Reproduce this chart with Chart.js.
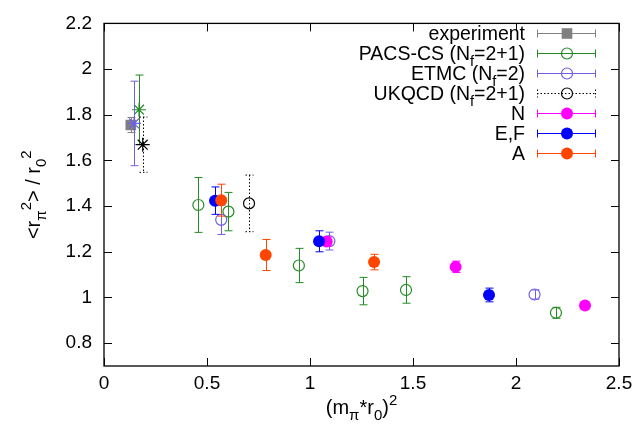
<!DOCTYPE html>
<html>
<head>
<meta charset="utf-8">
<script src="https://cdn.jsdelivr.net/npm/chart.js@4"></script>
<style>
  body { margin: 0; background: #fff; }
  canvas { display: block; }
</style>
</head>
<body>
<canvas id="g_radius" width="639" height="431"></canvas>
<script>
// values: x = (m_pi*r0)^2, y = <r^2>/r0^2, err = half length of the error bar
const exp_x = [0.13]
const exp_y = [1.755]
const exp_err = [0.033]

const pacs_x = [0.17, 0.458, 0.604, 0.946, 1.255, 1.466, 2.194]
const pacs_y = [1.822, 1.405, 1.376, 1.14, 1.028, 1.033, 0.933]
const pacs_err = [0.152, 0.12, 0.084, 0.075, 0.06, 0.058, 0.024]

const etmc_x = [0.146, 0.569, 1.094, 2.09]
const etmc_y = [1.762, 1.34, 1.247, 1.013]
const etmc_err = [0.185, 0.064, 0.039, 0.02]

const ukqcd_x = [0.188, 0.704]
const ukqcd_y = [1.669, 1.412]
const ukqcd_err = [0.121, 0.124]

const n_x = [1.081, 1.707, 2.335]
const n_y = [1.245, 1.134, 0.965]
const n_err = [0.02, 0.025, 0.01]

const ef_x = [0.539, 1.044, 1.869]
const ef_y = [1.424, 1.246, 1.011]
const ef_err = [0.06, 0.046, 0.03]

const a_x = [0.569, 0.785, 1.311]
const a_y = [1.426, 1.186, 1.155]
const a_err = [0.07, 0.068, 0.034]

const x_ticks = [0, 0.5, 1, 1.5, 2, 2.5]
const y_ticks = [0.8, 1, 1.2, 1.4, 1.6, 1.8, 2, 2.2]

const FONT = "'Liberation Sans', Arial, sans-serif"

// legend texts, pieces are [text, 'sub' | 'sup' | undefined]
const legend_items = [
    { text: [["experiment"]], color: "#808080", style: "rect", radius: 7.5, fill: true },
    { text: [["PACS-CS (N"], ["f", "sub"], ["=2+1)"]], color: "#228b22", style: "circle", radius: 5.5, fill: false },
    { text: [["ETMC (N"], ["f", "sub"], ["=2)"]], color: "#7060e0", style: "circle", radius: 5.5, fill: false },
    { text: [["UKQCD (N"], ["f", "sub"], ["=2+1)"]], color: "#000000", style: "circle", radius: 5.5, fill: false, dash: [1.5, 2] },
    { text: [["N"]], color: "#ff00ff", style: "circle", radius: 6, fill: true },
    { text: [["E,F"]], color: "#0000ff", style: "circle", radius: 6, fill: true },
    { text: [["A"]], color: "#ff4500", style: "circle", radius: 6, fill: true }
]

function pts(xs, ys) {
    return xs.map((v, i) => ({ x: v, y: ys[i] }))
}

// first point of some series is the physical point, drawn as a star
function series(xs, ys, err, item, star) {
    return {
        label: item.text.map(p => p[0]).join(""),
        data: pts(xs, ys),
        err: err,
        dash: item.dash,
        borderColor: item.color,
        backgroundColor: item.fill ? item.color : "rgba(0,0,0,0)",
        pointStyle: star ? xs.map((v, i) => i == 0 ? "star" : item.style) : item.style,
        pointRadius: star ? xs.map((v, i) => i == 0 ? 7 : item.radius) : item.radius,
        pointBorderWidth: item.fill ? 0 : 1.2,
        showLine: false
    }
}

// rich text with sub/superscripts
function richWidth(c, segs, size) {
    let w = 0
    segs.forEach(s => {
        c.font = (s[1] ? size * 0.75 : size) + "px " + FONT
        w += c.measureText(s[0]).width
    })
    return w
}
function drawRich(c, segs, x, y, size, align) {
    const w = richWidth(c, segs, size)
    let cx = align == "right" ? x - w : align == "center" ? x - w / 2 : x
    c.textAlign = "left"
    c.textBaseline = "alphabetic"
    segs.forEach(s => {
        let dy = 0
        if (s[1] == "sub") dy = size * 0.3
        if (s[1] == "sup") dy = -size * 0.45
        c.font = (s[1] ? size * 0.75 : size) + "px " + FONT
        c.fillText(s[0], cx, y + dy)
        cx += c.measureText(s[0]).width
    })
}

const errorBars = {
    id: "errorBars",
    beforeDatasetDraw(chart, args) {
        const ds = chart.data.datasets[args.index]
        const xs = chart.scales.x, ys = chart.scales.y
        const c = chart.ctx
        c.save()
        c.strokeStyle = ds.borderColor
        c.lineWidth = 1
        c.setLineDash(ds.dash || [])
        ds.data.forEach((p, i) => {
            const px = Math.round(xs.getPixelForValue(p.x)) + 0.5
            const top = ys.getPixelForValue(p.y + ds.err[i])
            const bot = ys.getPixelForValue(p.y - ds.err[i])
            c.beginPath()
            c.moveTo(px, top); c.lineTo(px, bot)
            c.moveTo(px - 4, top); c.lineTo(px + 4, top)
            c.moveTo(px - 4, bot); c.lineTo(px + 4, bot)
            c.stroke()
        })
        c.restore()
    }
}

const frame = {
    id: "frame",
    beforeDatasetsDraw(chart) {
        const c = chart.ctx
        const a = chart.chartArea
        const xs = chart.scales.x, ys = chart.scales.y
        c.save()
        c.strokeStyle = "#000"
        c.lineWidth = 1.3
        c.strokeRect(a.left, a.top, a.right - a.left, a.bottom - a.top)
        c.lineWidth = 1
        c.beginPath()
        x_ticks.forEach(v => {
            const px = Math.round(xs.getPixelForValue(v)) + 0.5
            c.moveTo(px, a.bottom); c.lineTo(px, a.bottom - 8)
            c.moveTo(px, a.top); c.lineTo(px, a.top + 8)
        })
        y_ticks.forEach(v => {
            const py = Math.round(ys.getPixelForValue(v)) + 0.5
            c.moveTo(a.left, py); c.lineTo(a.left + 8, py)
            c.moveTo(a.right, py); c.lineTo(a.right - 8, py)
        })
        c.stroke()
        c.restore()
    }
}

const keyBox = {
    id: "keyBox",
    afterDraw(chart) {
        const c = chart.ctx
        c.save()
        legend_items.forEach((item, i) => {
            const y = 33 + i * 20
            c.fillStyle = "#000"
            drawRich(c, item.text, 525, y + 7, 19.5, "right")
            c.strokeStyle = item.color
            c.lineWidth = 1
            c.setLineDash(item.dash || [])
            c.beginPath()
            c.moveTo(537, y + 0.5); c.lineTo(596, y + 0.5)
            c.moveTo(537.5, y - 3.5); c.lineTo(537.5, y + 4.5)
            c.moveTo(595.5, y - 3.5); c.lineTo(595.5, y + 4.5)
            c.stroke()
            c.setLineDash([])
            c.fillStyle = item.fill ? item.color : "rgba(0,0,0,0)"
            c.lineWidth = 1.2
            Chart.helpers.drawPoint(c, {
                pointStyle: item.style, rotation: 0, radius: item.radius,
                borderWidth: item.fill ? 0 : 1.2
            }, 567, y + 0.5)
        })
        c.restore()
    }
}

const axisTitles = {
    id: "axisTitles",
    afterDraw(chart) {
        const c = chart.ctx
        const a = chart.chartArea
        c.save()
        c.fillStyle = "#000"
        drawRich(c, [["(m"], ["\u03c0", "sub"], ["*r"], ["0", "sub"], [")"], ["2", "sup"]],
            (a.left + a.right) / 2, 414, 20, "center")
        c.translate(40, (a.top + a.bottom) / 2)
        c.rotate(-Math.PI / 2)
        drawRich(c, [["<r"], ["\u03c0", "sub"], ["2", "sup"], ["> / r"], ["0", "sub"], ["2", "sup"]],
            0, 0, 20, "center")
        c.restore()
    }
}

const g_radius = document.getElementById("g_radius")

new Chart(g_radius, {
    type: "scatter",
    data: {
        datasets: [
            series(a_x, a_y, a_err, legend_items[6]),
            series(ef_x, ef_y, ef_err, legend_items[5]),
            series(n_x, n_y, n_err, legend_items[4]),
            series(ukqcd_x, ukqcd_y, ukqcd_err, legend_items[3], true),
            series(etmc_x, etmc_y, etmc_err, legend_items[2], true),
            series(pacs_x, pacs_y, pacs_err, legend_items[1], true),
            series(exp_x, exp_y, exp_err, legend_items[0])
        ]
    },
    options: {
        responsive: false,
        animation: false,
        layout: { padding: { top: 17, right: 20, left: 0, bottom: 0 } },
        plugins: {
            legend: { display: false },
            tooltip: { enabled: false }
        },
        scales: {
            x: {
                type: "linear",
                min: 0,
                max: 2.5,
                afterBuildTicks: s => { s.ticks = x_ticks.map(v => ({ value: v })) },
                afterFit: s => { s.height = 65 },
                grid: { display: false, drawTicks: false },
                border: { display: false },
                ticks: {
                    color: "#000",
                    padding: 6,
                    maxRotation: 0,
                    font: { family: FONT, size: 19 },
                    callback: v => String(+v.toFixed(2))
                }
            },
            y: {
                type: "linear",
                min: 0.7,
                max: 2.2,
                afterBuildTicks: s => { s.ticks = y_ticks.map(v => ({ value: v })) },
                afterFit: s => { s.width = 104 },
                grid: { display: false, drawTicks: false },
                border: { display: false },
                ticks: {
                    color: "#000",
                    padding: 12,
                    font: { family: FONT, size: 19 },
                    callback: v => String(+v.toFixed(2))
                }
            }
        }
    },
    plugins: [frame, errorBars, keyBox, axisTitles]
})
</script>
</body>
</html>
